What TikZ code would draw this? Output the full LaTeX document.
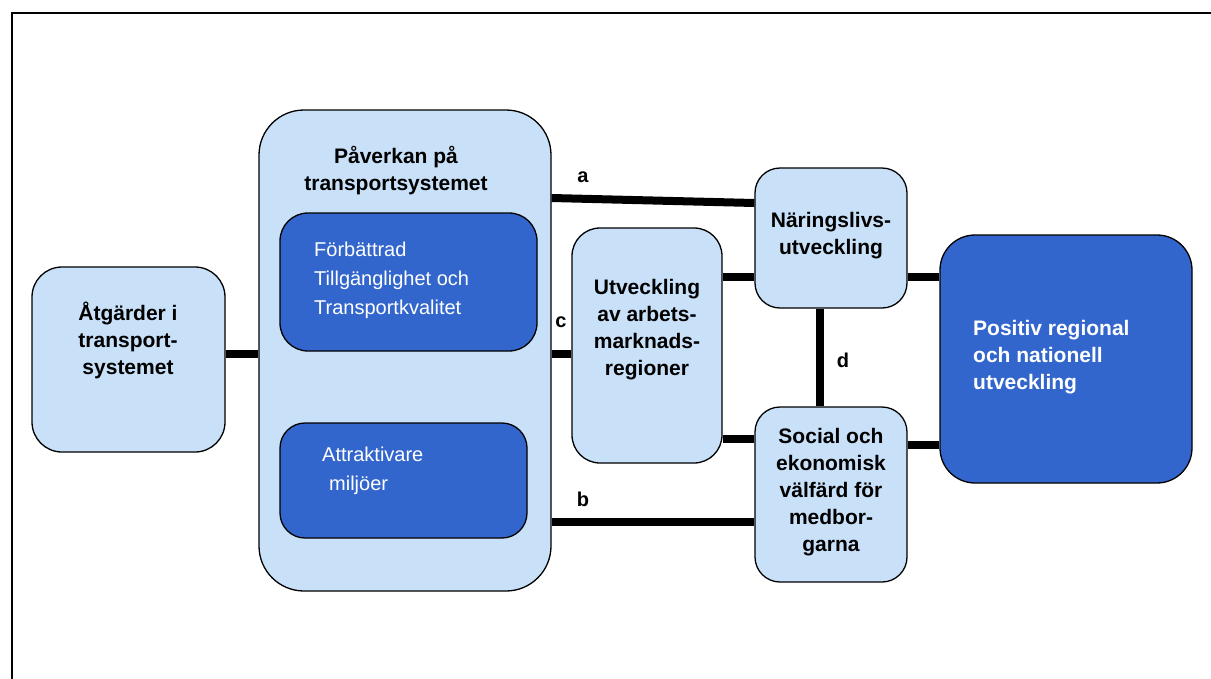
\documentclass[tikz,border=0pt]{standalone}
\usepackage{fontspec}
\setmainfont{Liberation Sans}
\definecolor{lightbox}{RGB}{200,224,248}
\definecolor{darkbox}{RGB}{51,102,204}
\tikzset{
  lbox/.style={draw=black, line width=1.3pt, fill=lightbox, inner sep=0pt},
  dbox/.style={draw=black, line width=1.3pt, fill=darkbox, inner sep=0pt},
  conn/.style={line width=8pt, draw=black},
  btext/.style={font=\fontsize{21}{27}\selectfont\bfseries, align=center, inner sep=0pt},
  wtext/.style={font=\fontsize{20}{29}\selectfont, text=white, align=left, inner sep=0pt},
  wbtext/.style={font=\fontsize{21}{27}\selectfont\bfseries, text=white, align=left, inner sep=0pt},
  lbl/.style={font=\fontsize{20}{24}\selectfont\bfseries, inner sep=0pt}
}
\begin{document}
\begin{tikzpicture}[x=1pt,y=-1pt]
\useasboundingbox (0,0) rectangle (1211,678);
\fill[white] (0,0) rectangle (1211,678);
\draw[line width=1.5pt] (12,690) -- (12,13) -- (1220,13);

% boxes
\node[lbox, rounded corners=30pt, minimum width=193pt, minimum height=185pt] (atg) at (128.5,359.5) {};
\node[lbox, rounded corners=45pt, minimum width=292pt, minimum height=481pt] (pav) at (405,350.5) {};
\node[dbox, rounded corners=28pt, minimum width=257pt, minimum height=138pt] (forb) at (408.5,282) {};
\node[dbox, rounded corners=25pt, minimum width=247pt, minimum height=115pt] (attr) at (403.5,480.5) {};
\node[lbox, rounded corners=28pt, minimum width=150pt, minimum height=235pt] (utv) at (647,345.5) {};
\node[lbox, rounded corners=25pt, minimum width=152pt, minimum height=140pt] (nar) at (831,238) {};
\node[lbox, rounded corners=25pt, minimum width=152pt, minimum height=175pt] (soc) at (831,494.5) {};
\node[dbox, rounded corners=35pt, minimum width=252pt, minimum height=248pt] (pos) at (1066,359) {};

% connectors
\draw[conn] (atg.east |- 0,354) -- (pav.west |- 0,354);
\draw[conn] (pav.east |- 0,354) -- (utv.west |- 0,354);
\draw[conn] (pav.east |- 0,198) -- (nar.west |- 0,203);
\draw[conn] (utv.east |- 0,277) -- (nar.west |- 0,277);
\draw[conn] (nar.east |- 0,277) -- (pos.west |- 0,277);
\draw[conn] (utv.east |- 0,439) -- (soc.west |- 0,439);
\draw[conn] (soc.east |- 0,445) -- (pos.west |- 0,445);
\draw[conn] (pav.east |- 0,522) -- (soc.west |- 0,522);
\draw[conn] (nar.south -| 820,0) -- (soc.north -| 820,0);

% texts
\node[btext] (tatg) at (128,340) {Åtgärder i\\transport-\\systemet};
\node[btext] (tpav) at (396,171) {Påverkan på\\transportsystemet};
\node[wtext, anchor=west] (tforb) at (314,280) {Förbättrad\\Tillgänglighet och\\Transportkvalitet};
\node[wtext, anchor=west] (tattr) at (322,471) {Attraktivare\\\hspace*{7pt}miljöer};
\node[btext] (tutv) at (647,330) {Utveckling\\av arbets-\\marknads-\\regioner};
\node[btext] (tnar) at (831,236) {Näringslivs-\\utveckling};
\node[btext] (tsoc) at (831,492) {Social och\\ekonomisk\\välfärd för\\medbor-\\garna};
\node[wbtext, anchor=west] (tpos) at (973,357) {Positiv regional\\och nationell\\utveckling};

% labels
\node[lbl] (la) at (583,177) {a};
\node[lbl] (lb) at (583,499) {b};
\node[lbl] (lc) at (561,322) {c};
\node[lbl] (ld) at (843,360) {d};
\end{tikzpicture}
\end{document}
